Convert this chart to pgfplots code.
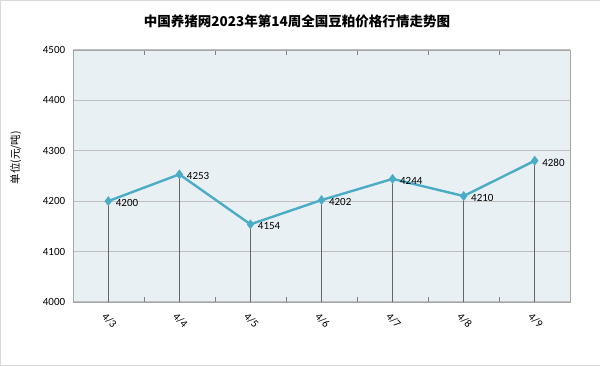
\documentclass[border=0pt]{standalone}
\usepackage{pgfplots}
\pgfplotsset{compat=1.18}
\usepackage{fontspec}
\setmainfont{Carlito}
\newfontfamily\cjk{Noto Sans CJK SC}
\definecolor{bg}{HTML}{E9F0F4}
\definecolor{ln}{HTML}{4BACC6}
\definecolor{gridc}{HTML}{BFBFBF}
\begin{document}
\begin{tikzpicture}[x=1pt,y=1pt]
\draw[draw=gray!30, fill=white] (0.5,0.5) rectangle (599.5,365.5);
\node[font=\cjk\bfseries\fontsize{13.5}{15}\selectfont] at (297,344) {中国养猪网2023年第14周全国豆粕价格行情走势图};
\node[rotate=90, font=\cjk\fontsize{10.5}{12}\selectfont] at (16,208) {单位(元/吨)};
\begin{axis}[
  at={(73pt,64pt)}, anchor=south west,
  scale only axis, width=497pt, height=252pt,
  xmin=-0.5, xmax=6.5, ymin=4000, ymax=4500,
  ytick={4000,4100,...,4500},
  xtick={0,...,6},
  xticklabels={4/3,4/4,4/5,4/6,4/7,4/8,4/9},
  x tick label style={yshift=-18pt, xshift=1pt, rotate=-45, anchor=center},
  minor xtick={-0.5,0.5,...,6.5},
  major x tick style={draw=none},
  minor x tick style={draw=gray},
  minor tick length=5pt,
  ymajorgrids, major grid style={gridc, line width=1pt},
  ytick style={draw=none},
  axis background/.style={fill=bg},
  axis line style={gray!70},
  tick label style={font=\fontsize{11}{12}\selectfont},
  yticklabel style={xshift=-4pt},
  /pgf/number format/assume math mode=true,
  scaled y ticks=false,
  y tick label style={/pgf/number format/1000 sep={}},
  clip=true,
]
\addplot[ycomb, gray!80!black, line width=0.8pt, mark=none] coordinates {
(0,4200) (1,4253) (2,4154) (3,4202) (4,4244) (5,4210) (6,4280)};
\addplot[ln, line width=2.4pt, mark=diamond*, mark size=3pt,
  nodes near coords, point meta=explicit symbolic,
  every node near coord/.style={black, anchor=west, xshift=3pt, yshift=-2pt, font=\fontsize{11}{12}\selectfont}]
  coordinates {
(0,4200) [4200] (1,4253) [4253] (2,4154) [4154] (3,4202) [4202] (4,4244) [4244] (5,4210) [4210] (6,4280) [4280]};
\end{axis}
\end{tikzpicture}
\end{document}
